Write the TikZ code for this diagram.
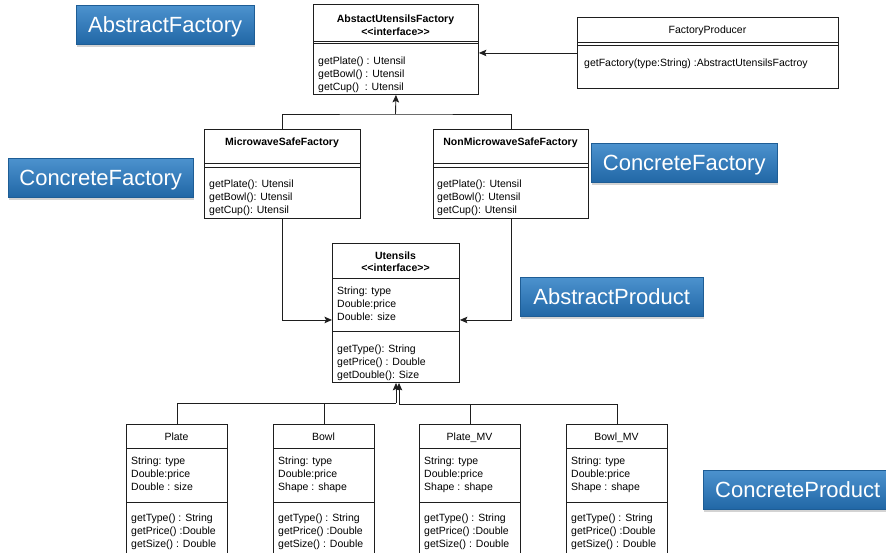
\documentclass[tikz,border=0pt]{standalone}
\usepackage{fontspec}
\setmainfont{Liberation Sans}
\usepackage{xcolor}
\usetikzlibrary{arrows.meta, shadows}

\definecolor{tagtop}{RGB}{76,146,206}
\definecolor{tagbottom}{RGB}{33,103,166}
\definecolor{umlline}{RGB}{30,30,30}

\tikzset{
	umlbox/.style = {draw = umlline, line width = 0.9pt, fill = white, anchor = north west, inner sep = 0pt},
	umltitle/.style = {font = \fontsize{10.5}{12}\selectfont, text height = 7.5pt, text depth = 2pt, inner sep = 0pt},
	umlhead/.style = {umltitle, font = \fontsize{10.5}{12}\selectfont\bfseries},
	umltext/.style = {font = \fontsize{10.5}{12.8}\selectfont, align = left, anchor = north west, inner sep = 0pt, yshift = -2pt},
	umlsep/.style = {umlline, line width = 0.9pt},
	umlwire/.style = {umlline, line width = 0.9pt},
	umlarrow/.style = {umlwire, -{Stealth[length = 7.5pt, width = 6.5pt, inset = 1.5pt]}},
	tag/.style = {anchor = north west, top color = tagtop, bottom color = tagbottom, draw = tagbottom!90!black, line width = 0.4pt,
		text = white, font = \fontsize{22}{22}\selectfont, text height = 15.8pt, text depth = 0pt, minimum height = 39pt,
		drop shadow = {shadow xshift = 1pt, shadow yshift = -2.5pt, opacity = 0.35}}
}

\begin{document}
\begin{tikzpicture}[x = 1pt, y = -1pt]
	\useasboundingbox (0,0) rectangle (886,552);
	\clip (0,0) rectangle (886,552);

	% pattern roles
	\node [tag, minimum width = 178pt] (tagaf) at (76,5) {AbstractFactory};
	\node [tag, minimum width = 185pt] (tagcfl) at (8,158) {ConcreteFactory};
	\node [tag, minimum width = 186pt] (tagcfr) at (591,143) {ConcreteFactory};
	\node [tag, minimum width = 183pt] (tagap) at (520,277) {AbstractProduct};
	\node [tag, minimum width = 189pt] (tagcp) at (703,470) {ConcreteProduct};

	% AbstactUtensilsFactory
	\node [umlbox, minimum width = 165pt, minimum height = 90pt] (auf) at (313,4) {};
	\node [umlhead] (auftitle) at (395.5,20) {AbstactUtensilsFactory};
	\node [umlhead] (aufstereo) at (395.5,33) {<{}<interface>{}>};
	\draw [umlsep] (auf.west |- 0,41) -- (auf.east |- 0,41);
	\draw [umlsep] (auf.west |- 0,43.5) -- (auf.east |- 0,43.5);
	\node [umltext] (aufops) at (318,55) {getPlate() : Utensil\\getBowl() : Utensil\\getCup()\ \ : Utensil};

	% FactoryProducer
	\node [umlbox, minimum width = 261pt, minimum height = 71pt] (fp) at (577,17) {};
	\node [umltitle] (fptitle) at (707.5,31) {FactoryProducer};
	\draw [umlsep] (fp.west |- 0,42) -- (fp.east |- 0,42);
	\draw [umlsep] (fp.west |- 0,45) -- (fp.east |- 0,45);
	\node [umltext] (fpops) at (584,57) {getFactory(type:String) :AbstractUtensilsFactroy};

	% MicrowaveSafeFactory
	\node [umlbox, minimum width = 156pt, minimum height = 89pt] (msf) at (204,129) {};
	\node [umlhead] (msftitle) at (282,143) {MicrowaveSafeFactory};
	\draw [umlsep] (msf.west |- 0,163.3) -- (msf.east |- 0,163.3);
	\draw [umlsep] (msf.west |- 0,167) -- (msf.east |- 0,167);
	\node [umltext] (msfops) at (209,178) {getPlate(): Utensil\\getBowl(): Utensil\\getCup(): Utensil};

	% NonMicrowaveSafeFactory
	\node [umlbox, minimum width = 155pt, minimum height = 89pt] (nmsf) at (433,129) {};
	\node [umlhead] (nmsftitle) at (510.5,143) {NonMicrowaveSafeFactory};
	\draw [umlsep] (nmsf.west |- 0,163.3) -- (nmsf.east |- 0,163.3);
	\draw [umlsep] (nmsf.west |- 0,167) -- (nmsf.east |- 0,167);
	\node [umltext] (nmsfops) at (437,178) {getPlate(): Utensil\\getBowl(): Utensil\\getCup(): Utensil};

	% Utensils
	\node [umlbox, minimum width = 127pt, minimum height = 139pt] (ut) at (332,243) {};
	\node [umlhead] (uttitle) at (395.5,257) {Utensils};
	\node [umlhead] (utstereo) at (395.5,268.5) {<{}<interface>{}>};
	\draw [umlsep] (ut.west |- 0,278) -- (ut.east |- 0,278);
	\node [umltext] (utattrs) at (337,285) {String: type\\Double:price\\Double: size};
	\draw [umlsep] (ut.west |- 0,331) -- (ut.east |- 0,331);
	\node [umltext] (utops) at (337,343) {getType(): String\\getPrice() : Double\\getDouble(): Size};

	% products
	\foreach \name/\x/\title/\attr in {plate/126/Plate/{Double : size}, bowl/273/Bowl/{Shape : shape},
		platemv/419/Plate\_MV/{Shape : shape}, bowlmv/566/Bowl\_MV/{Shape : shape}} {
		\node [umlbox, minimum width = 101pt, minimum height = 136pt] (\name) at (\x,424) {};
		\node [umltitle] (\name title) at (\x+50.5,438) {\title};
		\draw [umlsep] (\name.west |- 0,448) -- (\name.east |- 0,448);
		\node [umltext] (\name attrs) at (\x+5,455) {String: type\\Double:price\\\attr};
		\draw [umlsep] (\name.west |- 0,502) -- (\name.east |- 0,502);
		\node [umltext] (\name ops) at (\x+5,512) {getType() : String\\getPrice() :Double\\getSize() : Double};
	}

	% connectors
	\coordinate (facjoin) at (395.5,114);
	\draw [umlwire] (msf.north) |- (facjoin) -| (nmsf.north);
	\draw [umlarrow] (facjoin) -- (auf.south);
	\draw [umlarrow] (fp.west) -- (fp.west -| auf.east);
	\draw [umlarrow] (msf.south) |- ([yshift = -7pt]ut.west);
	\draw [umlarrow] (nmsf.south) |- ([yshift = -7pt]ut.east);

	\coordinate (prodjoin) at (396,403);
	\coordinate (prodjoinmv) at (399,404);
	\draw [umlwire] (plate.north) |- (prodjoin);
	\draw [umlwire] (bowl.north) |- (prodjoin);
	\draw [umlarrow] (prodjoin) -- (prodjoin |- ut.south);
	\draw [umlwire] (platemv.north) |- (prodjoinmv);
	\draw [umlwire] (bowlmv.north) |- (prodjoinmv);
	\draw [umlarrow] (prodjoinmv) -- (prodjoinmv |- ut.south);
\end{tikzpicture}
\end{document}
